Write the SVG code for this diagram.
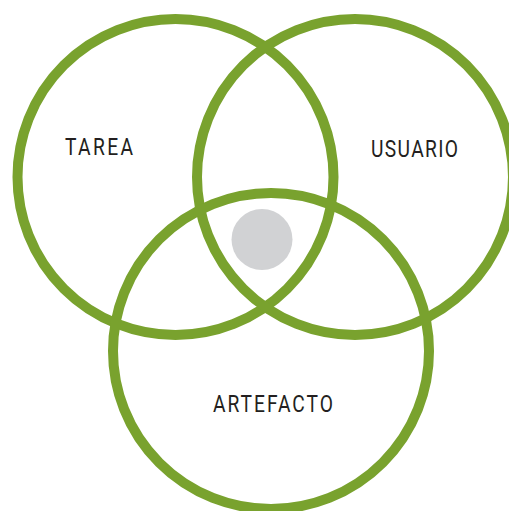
<svg xmlns="http://www.w3.org/2000/svg" width="509" height="511" viewBox="0 0 509 511">
<style>
.ring{fill:none;stroke:#79a22e;stroke-width:10}
.lbl{font-family:Roboto,"Liberation Sans",sans-serif;font-weight:400;font-size:24px;fill:#231f20;text-anchor:middle}
</style>
<rect width="509" height="511" fill="#ffffff"/>
<g id="tarea"><circle class="ring" cx="175.5" cy="177" r="158"/><text class="lbl" transform="translate(99 155) scale(0.8 1)" x="0" y="0" textLength="85" lengthAdjust="spacing">TAREA</text></g>
<g id="usuario"><circle class="ring" cx="355" cy="177" r="158"/><text class="lbl" transform="translate(414.5 157) scale(0.8 1)" x="0" y="0" textLength="108.75" lengthAdjust="spacing">USUARIO</text></g>
<g id="artefacto"><circle class="ring" cx="271" cy="351" r="158"/><text class="lbl" transform="translate(273 412) scale(0.8 1)" x="0" y="0" textLength="150" lengthAdjust="spacing">ARTEFACTO</text></g>
<g id="centro"><circle cx="262" cy="239.5" r="30.5" fill="#d1d2d4"/></g>
</svg>
